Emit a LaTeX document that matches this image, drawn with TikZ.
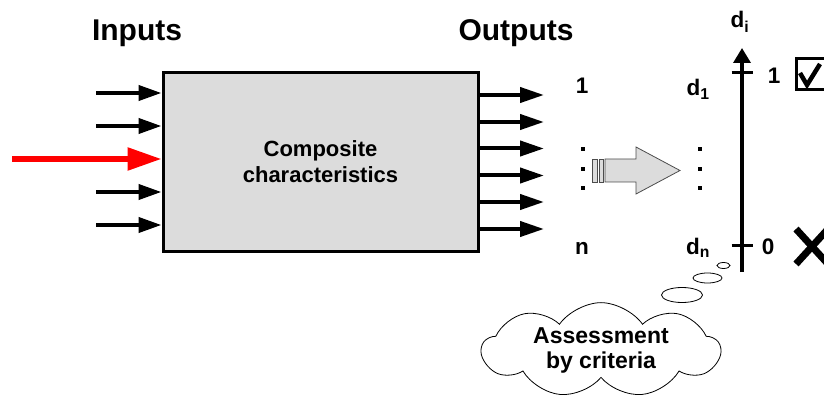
\documentclass[tikz,border=0pt]{standalone}
\usepackage{fontspec}
\setmainfont{Liberation Sans}
\usetikzlibrary{arrows.meta,shapes.symbols,calc}
\definecolor{boxgray}{HTML}{DCDCDC}
\definecolor{arrred}{HTML}{FF0000}
\tikzset{
  inarrow/.style={line width=4pt,-{Triangle[length=23pt,width=15pt]}},
  redarrow/.style={line width=5.5pt,arrred,-{Triangle[length=34pt,width=22pt]},draw=arrred},
  outarrow/.style={line width=4pt,-{Triangle[length=24pt,width=15pt]}},
  title/.style={font=\bfseries\fontsize{30}{34}\selectfont,anchor=base,inner sep=0pt},
  lbl/.style={font=\bfseries\fontsize{22.5}{26}\selectfont,anchor=base,inner sep=0pt},
  dotsq/.style={fill=black,minimum size=4pt,inner sep=0pt,outer sep=0pt,draw=none},
  bubble/.style={draw=black,line width=0.8pt,fill=white},
}
\begin{document}
\begin{tikzpicture}[x=1pt,y=-1pt]
\useasboundingbox (0,0) rectangle (824,398);

% main box
\node[draw=black,line width=3pt,fill=boxgray,minimum width=315pt,minimum height=178pt,inner sep=0pt,
      font=\bfseries\fontsize{22}{26}\selectfont,align=center] (box) at (320.5,162) {Composite\\characteristics};

% titles
\node[title] (tin) at (137,41) {Inputs};
\node[title] (tout) at (516,41) {Outputs};

% input arrows
\coordinate (i1) at (96,93);
\coordinate (i2) at (96,126);
\coordinate (i3) at (12,159);
\coordinate (i4) at (96,192);
\coordinate (i5) at (96,225);
\foreach \c in {i1,i2,i4,i5}{\draw[inarrow] (\c) -- (\c -| box.west);}
\draw[redarrow] (i3) -- (i3 -| box.west);

% output arrows
\foreach \n/\y in {1/95,2/122,3/148.5,4/175.5,5/202,6/229}{
  \coordinate (o\n) at (544,\y);
  \draw[outarrow] (o\n -| box.east) -- (o\n);
}

% output labels
\node[lbl] (l1) at (582,94) {1};
\node[lbl] (ln) at (582,254) {n};
\node[dotsq] (ld1) at (582.5,149) {};
\node[dotsq] (ld2) at (582.5,169) {};
\node[dotsq] (ld3) at (582.5,188) {};

\node[lbl] (d1) at (698,96) {d\textsubscript{1}};
\node[lbl] (dn) at (698,254) {d\textsubscript{n}};
\node[dotsq] (rd1) at (700,149) {};
\node[dotsq] (rd2) at (700,169) {};
\node[dotsq] (rd3) at (700,188) {};

% block arrow
\draw[draw=black!70,line width=0.8pt,fill=boxgray]
  (605,159) -- (636,159) -- (636,147) -- (680,170.5) -- (636,194) -- (636,182) -- (605,182) -- cycle;
\draw[draw=black!70,line width=0.8pt,fill=boxgray] (592.5,159) rectangle (597.5,182);
\draw[draw=black!70,line width=0.8pt,fill=boxgray] (599,159) rectangle (603.5,182);

% axis
\coordinate (ax0) at (742,272);
\coordinate (ax1) at (742,48);
\draw[line width=3.5pt,-{Triangle[length=15pt,width=17pt]}] (ax0) -- (ax1);
\coordinate (t1) at (742,73);
\coordinate (t0) at (742,245);
\draw[line width=3pt] ($(t1)+(-10.5,0)$) -- ($(t1)+(10.5,0)$);
\draw[line width=3pt] ($(t0)+(-10.5,0)$) -- ($(t0)+(10.5,0)$);
\node[lbl] (di) at (740,28) {d\textsubscript{i}};
\node[lbl] (a1) at (774,84) {1};
\node[lbl] (a0) at (768,254) {0};

% check box
\draw[line width=3pt] (796,59) rectangle (828,90);
\draw[line width=4.5pt] (800,73) -- (807,85) -- (820,64);

% cross
\draw[line width=7pt] (796,229) -- (828,264);
\draw[line width=7pt] (828,229) -- (796,264);

% cloud
\node[draw=black,line width=0.8pt,fill=white,cloud,cloud puffs=9,cloud puff arc=110,cloud ignores aspect,
      minimum width=238pt,minimum height=92pt,inner sep=0pt,
      font=\bfseries\fontsize{23}{25}\selectfont,align=center] (cloud) at (601,350) {Assessment\\by criteria};

% thought bubbles
\draw[bubble] (682,295) ellipse [x radius=20.5, y radius=7.5];
\draw[bubble] (707.5,278) ellipse [x radius=14.5, y radius=5];
\draw[bubble] (723.5,265.5) ellipse [x radius=6.5, y radius=3];
\end{tikzpicture}
\end{document}
